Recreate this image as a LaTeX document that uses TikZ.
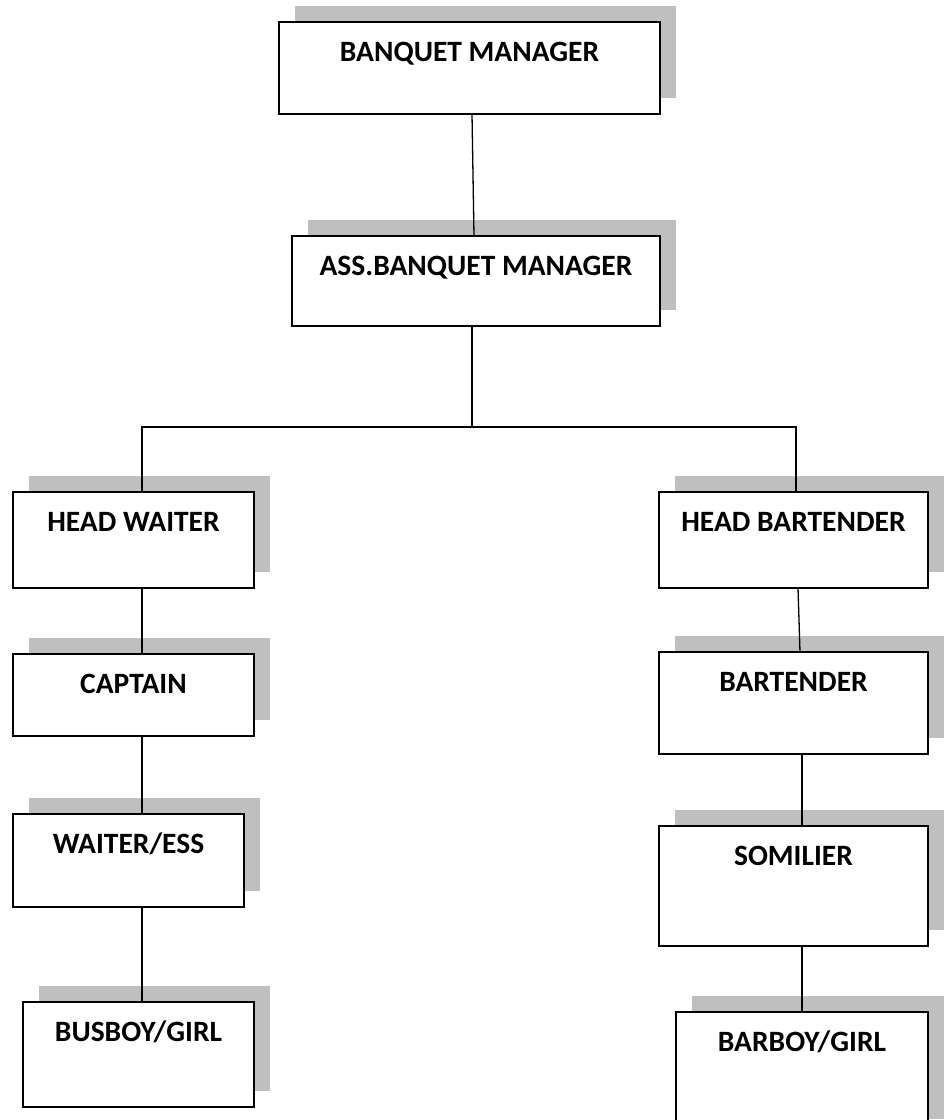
\documentclass[tikz,border=0pt]{standalone}
\usepackage{fontspec}
\setmainfont{Carlito}
\definecolor{shadowgray}{RGB}{191,191,191}
\tikzset{
  orgbox/.style={draw=black, line width=1.7pt, fill=white, rectangle, inner sep=0pt, outer sep=0pt, anchor=north west},
  orglabel/.style={anchor=base, inner sep=0pt, font=\fontsize{29.5}{35}\selectfont\bfseries},
  conn/.style={draw=black, line width=1.3pt},
  shadowbox/.style={fill=shadowgray}
}
\newcommand\orgnode[6]{%
  \fill[shadowbox] (#2+16,#3-16) rectangle (#4+16,#5-16);
  \node[orgbox, minimum width={(#4-#2)*1pt}, minimum height={(#5-#3)*1pt}] (#1) at (#2,#3) {};
  \node[orglabel] (#1-t) at ([yshift=-39pt]#1.north) {#6};
}
\begin{document}
\begin{tikzpicture}[x=1pt,y=-1pt]
\useasboundingbox (0,0) rectangle (944,1120);
\clip (0,0) rectangle (944,1120);
\orgnode{bm}{279}{22}{660}{114}{BANQUET MANAGER}
\orgnode{abm}{292}{236}{660}{326}{ASS.BANQUET MANAGER}
\orgnode{hw}{13}{492}{254}{588}{HEAD WAITER}
\orgnode{cap}{13}{654}{254}{736}{CAPTAIN}
\orgnode{we}{13}{814}{244}{907}{WAITER/ESS}
\orgnode{bb}{23}{1002}{254}{1107}{BUSBOY/GIRL}
\orgnode{hb}{659}{492}{928}{588}{HEAD BARTENDER}
\orgnode{bt}{659}{652}{928}{754}{BARTENDER}
\orgnode{som}{659}{826}{928}{946}{SOMILIER}
\orgnode{bbg}{676}{1012}{928}{1135}{BARBOY/GIRL}
\coordinate (jl) at (142,427);
\coordinate (jm) at (472,427);
\coordinate (jr) at (796,427);
\draw[conn] ([xshift=2.5pt]bm.south) -- ([xshift=-2pt]abm.north);
\draw[conn] ([xshift=-4pt]abm.south) -- (jm);
\draw[conn] ([xshift=8.5pt]hw.north) -- (jl) -- (jr) -- ([xshift=2.5pt]hb.north);
\draw[conn] ([xshift=8.5pt]hw.south) -- ([xshift=8.5pt]cap.north);
\draw[conn] ([xshift=8.5pt]cap.south) -- ([xshift=13.5pt]we.north);
\draw[conn] ([xshift=13.5pt]we.south) -- ([xshift=3.5pt]bb.north);
\draw[conn] ([xshift=4.5pt]hb.south) -- ([xshift=6.5pt]bt.north);
\draw[conn] ([xshift=8.5pt]bt.south) -- ([xshift=8.5pt]som.north);
\draw[conn] ([xshift=8.5pt]som.south) -- (bbg.north);
\end{tikzpicture}
\end{document}
